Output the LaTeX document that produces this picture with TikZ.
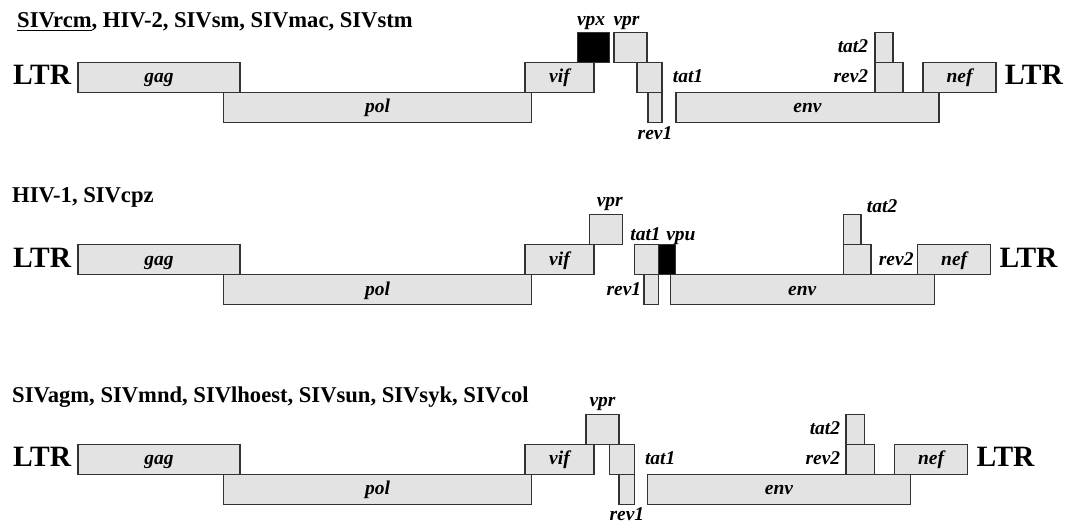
\documentclass[tikz,border=0pt]{standalone}
\usepackage{fontspec}
\setmainfont{Liberation Serif}
\usetikzlibrary{positioning}

\newcommand{\genefont}{\bfseries\itshape\fontsize{19.5}{22}\selectfont}
\newcommand{\ltrfont}{\bfseries\fontsize{29.5}{34}\selectfont}
\newcommand{\ttlfont}{\bfseries\fontsize{22.6}{27}\selectfont}
\newcommand{\ulname}[1]{\setbox0\hbox{#1}\rlap{\rule[-3.6pt]{\wd0}{1.3pt}}\box0}

\begin{document}
\begin{tikzpicture}[x=1pt, y=-1pt,
  gene/.style={draw=black!80, line width=1.3pt, fill=black!11, inner sep=0pt, minimum height=30pt, font=\genefont, text height=14pt, text depth=3pt},
  blk/.style={gene, fill=black},
  lbl/.style={inner sep=0pt, font=\genefont, text height=14pt, text depth=3pt},
  ltr/.style={inner sep=0pt, font=\ltrfont},
  ttl/.style={inner sep=0pt, font=\ttlfont, anchor=base west}]
\useasboundingbox (0,0) rectangle (1074,524);

% SIVrcm group
\node[ttl] (ttlA) at (17,27.5) {\ulname{SIVrcm}, HIV-2, SIVsm, SIVmac, SIVstm};
\node[gene, minimum width=162pt] (gagA) at (159,77.5) {gag};
\node[gene, minimum width=308pt] (polA) at (377.5,107.5) {pol};
\node[gene, minimum width=69pt] (vifA) at (559.5,77.5) {vif};
\node[blk, minimum width=32pt] (vpxA) at (593.5,47.5) {};
\node[gene, minimum width=33pt] (vprA) at (630.5,47.5) {};
\node[gene, minimum width=25pt] (tatoneA) at (649.5,77.5) {};
\node[gene, minimum width=14pt] (revoneA) at (655,107.5) {};
\node[gene, minimum width=263pt] (envA) at (807.5,107.5) {env};
\node[gene, minimum width=18pt] (tattwoA) at (884,47.5) {};
\node[gene, minimum width=28pt] (revtwoA) at (889,77.5) {};
\node[gene, minimum width=73pt] (nefA) at (959.5,77.5) {nef};
\node[lbl, anchor=base west] (vpxAl) at ([yshift=6pt]vpxA.north west) {vpx};
\node[lbl, anchor=base west] (vprAl) at ([yshift=6pt]vprA.north west) {vpr};
\node[lbl, anchor=west] (tatoneAl) at ([xshift=10pt]tatoneA.east) {tat1};
\node[lbl, anchor=base] (revoneAl) at ([yshift=-16pt]revoneA.south) {rev1};
\node[lbl, anchor=east] (tattwoAl) at ([xshift=-6pt]tattwoA.west) {tat2};
\node[lbl, anchor=east] (revtwoAl) at ([xshift=-6pt]revtwoA.west) {rev2};
\node[ltr, anchor=base east] (ltrAl) at ([xshift=-6pt,yshift=-7.5pt]gagA.west) {LTR};
\node[ltr, anchor=base west] (ltrAr) at ([xshift=8pt,yshift=-7.5pt]nefA.east) {LTR};

% HIV-1 group
\node[ttl] (ttlB) at (12,202) {HIV-1, SIVcpz};
\node[gene, minimum width=162pt] (gagB) at (159,259.5) {gag};
\node[gene, minimum width=308pt] (polB) at (377.5,289.5) {pol};
\node[gene, minimum width=69pt] (vifB) at (559.5,259.5) {vif};
\node[gene, minimum width=33pt] (vprB) at (605.8,229.5) {};
\node[gene, minimum width=24.4pt] (tatoneB) at (646.5,259.5) {};
\node[blk, minimum width=17pt] (vpuB) at (667.2,259.5) {};
\node[gene, minimum width=14.7pt] (revoneB) at (651.35,289.5) {};
\node[gene, minimum width=264pt] (envB) at (802.3,289.5) {env};
\node[gene, minimum width=17.7pt] (tattwoB) at (852.2,229.5) {};
\node[gene, minimum width=27.7pt] (revtwoB) at (857.2,259.5) {};
\node[gene, minimum width=73pt] (nefB) at (954.2,259.5) {nef};
\node[lbl, anchor=base east] (vprBl) at ([yshift=7pt]vprB.north east) {vpr};
\node[lbl, anchor=base] (tatoneBl) at ([xshift=-1pt,yshift=3pt]tatoneB.north) {tat1};
\node[lbl, anchor=base west] (vpuBl) at ([xshift=8pt,yshift=3pt]vpuB.north west) {vpu};
\node[lbl, anchor=east] (revoneBl) at ([xshift=-2pt]revoneB.west) {rev1};
\node[lbl, anchor=base west] (tattwoBl) at ([xshift=5pt,yshift=1pt]tattwoB.north east) {tat2};
\node[lbl, anchor=west] (revtwoBl) at ([xshift=7pt]revtwoB.east) {rev2};
\node[ltr, anchor=base east] (ltrBl) at ([xshift=-6pt,yshift=-7.5pt]gagB.west) {LTR};
\node[ltr, anchor=base west] (ltrBr) at ([xshift=8pt,yshift=-7.5pt]nefB.east) {LTR};

% SIVagm group
\node[ttl] (ttlC) at (12,402) {SIVagm, SIVmnd, SIVlhoest, SIVsun, SIVsyk, SIVcol};
\node[gene, minimum width=162pt] (gagC) at (159,459.3) {gag};
\node[gene, minimum width=308pt] (polC) at (377.5,489.3) {pol};
\node[gene, minimum width=69pt] (vifC) at (559.5,459.3) {vif};
\node[gene, minimum width=33pt] (vprC) at (602.5,429.3) {};
\node[gene, minimum width=25.4pt] (tatoneC) at (622,459.3) {};
\node[gene, minimum width=15.7pt] (revoneC) at (626.85,489.3) {};
\node[gene, minimum width=263.4pt] (envC) at (779,489.3) {env};
\node[gene, minimum width=18.3pt] (tattwoC) at (855.15,429.3) {};
\node[gene, minimum width=28.7pt] (revtwoC) at (860.35,459.3) {};
\node[gene, minimum width=73.4pt] (nefC) at (931,459.3) {nef};
\node[lbl, anchor=base] (vprCl) at ([yshift=7pt]vprC.north) {vpr};
\node[lbl, anchor=west] (tatoneCl) at ([xshift=9.5pt]tatoneC.east) {tat1};
\node[lbl, anchor=base] (revoneCl) at ([yshift=-16pt]revoneC.south) {rev1};
\node[lbl, anchor=east] (tattwoCl) at ([xshift=-5pt]tattwoC.west) {tat2};
\node[lbl, anchor=east] (revtwoCl) at ([xshift=-5pt]revtwoC.west) {rev2};
\node[ltr, anchor=base east] (ltrCl) at ([xshift=-6pt,yshift=-7.5pt]gagC.west) {LTR};
\node[ltr, anchor=base west] (ltrCr) at ([xshift=8pt,yshift=-7.5pt]nefC.east) {LTR};
\end{tikzpicture}
\end{document}
